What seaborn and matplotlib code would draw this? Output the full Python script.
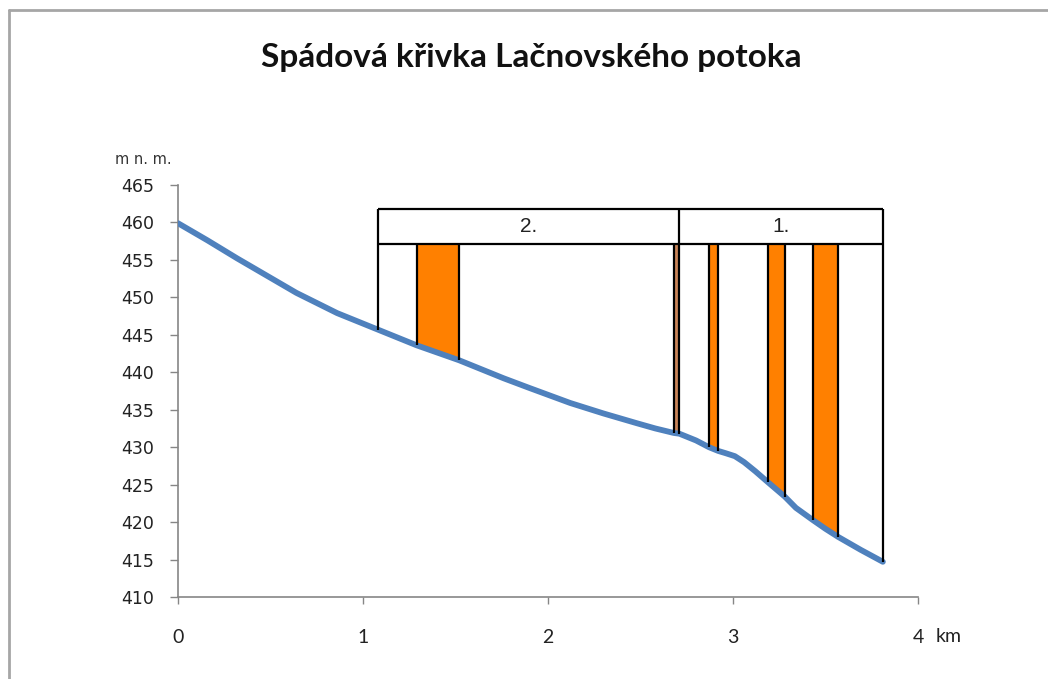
import numpy as np
import pandas as pd
import matplotlib
matplotlib.use("Agg")
import matplotlib.pyplot as plt
from matplotlib.lines import Line2D
import seaborn as sns

# ---- data ----
title = "Spádová křivka Lačnovského potoka"
dist_km = [0.0, 0.16, 0.32, 0.48, 0.64, 0.86, 1.08, 1.29, 1.52, 1.76, 1.90, 2.12, 2.30,
           2.48, 2.58, 2.68, 2.71, 2.80, 2.87, 2.92, 2.96, 3.01, 3.06, 3.12, 3.19, 3.28,
           3.34, 3.43, 3.50, 3.57, 3.69, 3.81]
elev_m = [459.9, 457.6, 455.2, 452.9, 450.6, 447.9, 445.7, 443.6, 441.6, 439.2, 437.9, 435.9,
          434.5, 433.2, 432.5, 431.9, 431.8, 430.9, 430.0, 429.5, 429.2, 428.8, 428.0, 426.8,
          425.3, 423.4, 421.9, 420.3, 419.1, 418.0, 416.3, 414.7]

section_labels = ["2.", "1."]
section_edges = [1.08, 2.71, 3.81]
box_top = 461.8
box_bottom = 457.1

bar_left = [1.29, 2.68, 2.87, 3.19, 3.43]
bar_right = [1.52, 2.71, 2.92, 3.28, 3.57]
bar_colors = ["#ff8000", "#c98458", "#ff8000", "#ff8000", "#ff8000"]

y_ticks = list(range(410, 466, 5))
x_ticks = [0, 1, 2, 3, 4]
y_unit = "m n. m."
x_unit = "km"

# ---- figure ----
sns.set_style("white")
plt.rcParams["font.family"] = ["DejaVu Sans"]

W, H = 1048, 679
fig = plt.figure(figsize=(W / 100, H / 100), dpi=100)
ax = fig.add_axes([178 / W, 1 - 597 / H, 740 / W, 412 / H])

df = pd.DataFrame({"dist": dist_km, "elev": elev_m})
d = np.array(dist_km)
e = np.array(elev_m)

# orange fills between bar edges, from curve up to box bottom
for l, r, c in zip(bar_left, bar_right, bar_colors):
    m = (d >= l - 1e-9) & (d <= r + 1e-9)
    ax.fill_between(d[m], e[m], box_bottom, color=c, lw=0, zorder=1)

# river profile
sns.lineplot(data=df, x="dist", y="elev", color="#4f81bd", lw=4.2, sort=False,
             ax=ax, zorder=3)
ax.lines[-1].set_solid_joinstyle("round")
ax.lines[-1].set_solid_capstyle("round")

# box with sections
ax.hlines([box_top, box_bottom], section_edges[0], section_edges[-1],
          color="black", lw=1.6, zorder=4)
for x in section_edges:
    ax.vlines(x, np.interp(x, d, e), box_top, color="black", lw=1.6, zorder=4)
for x in bar_left + bar_right:
    if x in section_edges:
        continue
    ax.vlines(x, np.interp(x, d, e), box_bottom, color="black", lw=1.6, zorder=4)
for lab, a, b in zip(section_labels, section_edges[:-1], section_edges[1:]):
    ax.text((a + b) / 2, (box_top + box_bottom) / 2, lab, ha="center", va="center",
            fontsize=15, family="Liberation Sans", color="#222222", zorder=5)

# axes styling
ax.set_xlim(0, 4)
ax.set_ylim(410, 465)
ax.set_xticks(x_ticks)
ax.set_yticks(y_ticks)
ax.set_xlabel("")
ax.set_ylabel("")
for s in ["top", "right"]:
    ax.spines[s].set_visible(False)
for s in ["left", "bottom"]:
    ax.spines[s].set_color("#868686")
    ax.spines[s].set_linewidth(1.2)
ax.tick_params(axis="y", left=True, length=5.5, width=1, color="#868686",
               pad=12, labelsize=12.5, labelcolor="#222222", direction="out")
ax.tick_params(axis="x", bottom=True, length=5, width=1, color="#868686",
               pad=18, labelsize=14, labelcolor="#222222", direction="out")
for t in ax.get_xticklabels():
    t.set_fontfamily("Lato")
ax.set_facecolor("none")

# unit labels
fig.text(172 / W, 1 - 160 / H, y_unit, ha="right", va="center", fontsize=10.5,
         color="#333333")
fig.text(936 / W, 1 - 636 / H, x_unit, ha="left", va="center", fontsize=14,
         family="Lato", color="#222222")

# title
fig.text(531 / W, 1 - 57 / H, title, ha="center", va="center", fontsize=24,
         fontweight="bold", family="Lato", color="#111111")

# outer frame
fig.add_artist(Line2D([9 / W, 1], [1 - 10 / H] * 2, transform=fig.transFigure,
                      color="#a6a6a6", lw=2))
fig.add_artist(Line2D([9 / W] * 2, [0, 1 - 10 / H], transform=fig.transFigure,
                      color="#a6a6a6", lw=2))

fig.savefig("out.png", dpi=100, facecolor="white")
